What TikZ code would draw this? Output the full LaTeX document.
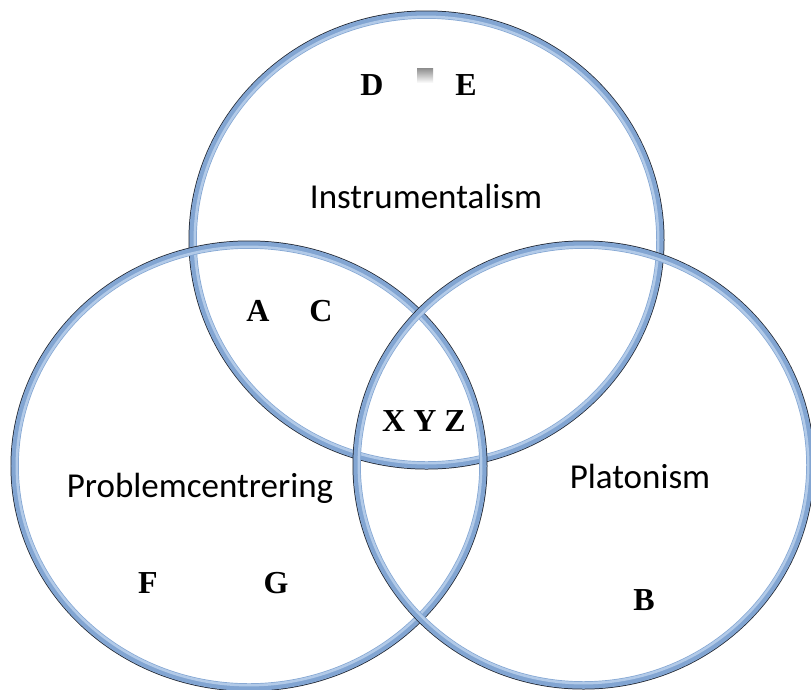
\documentclass[tikz,border=0pt]{standalone}
\usepackage{fontspec}
\newfontfamily\calib{Carlito}
\newfontfamily\tnr{Liberation Serif}
\definecolor{ringblue}{RGB}{130,165,210}
\definecolor{ringlight}{RGB}{178,202,232}
\definecolor{ringdark}{RGB}{30,35,45}
\tikzset{
  ring/.style={draw=ringblue, line width=7.5pt},
  ringinner/.style={draw=ringlight, line width=2.5pt},
  ringedge/.style={draw=ringdark, line width=1.4pt},
  setlabel/.style={font=\calib\fontsize{35}{40}\selectfont, inner sep=0pt},
  elem/.style={font=\tnr\bfseries\fontsize{32}{36}\selectfont, inner sep=0pt}
}
\begin{document}
\begin{tikzpicture}[x=1pt,y=-1pt]
\fill[white] (0,0) rectangle (811,689);
\useasboundingbox (0,0) rectangle (811,689);
% rings: top, left, right
\foreach \cx/\cy/\rx/\ry in {426.5/240/233.5/225, 249/466/234/221, 583.5/465/226.5/220}{
  \draw[ringedge] (\cx,\cy) ellipse [x radius=\rx+3.8, y radius=\ry+3.8];
  \draw[ring] (\cx,\cy) ellipse [x radius=\rx, y radius=\ry];
  \draw[ringinner] (\cx,\cy) ellipse [x radius=\rx-1.8, y radius=\ry-1.8];
}
% small gray artifact
\shade[top color=gray!90, bottom color=white] (417,68) rectangle (433,83);
% set labels
\node[setlabel] (instr) at (426,196) {Instrumentalism};
\node[setlabel] (probl) at (200,488) {Problemcentrering};
\node[setlabel] (plato) at (640,476) {Platonism};
% elements
\node[elem] (D) at (372,85) {D};
\node[elem] (E) at (466,85) {E};
\node[elem] (A) at (258,311) {A};
\node[elem] (C) at (321,311) {C};
\node[elem] (XYZ) at (424,421) {X Y Z};
\node[elem] (F) at (148,583) {F};
\node[elem] (G) at (276,583) {G};
\node[elem] (B) at (644,600) {B};
\end{tikzpicture}
\end{document}
